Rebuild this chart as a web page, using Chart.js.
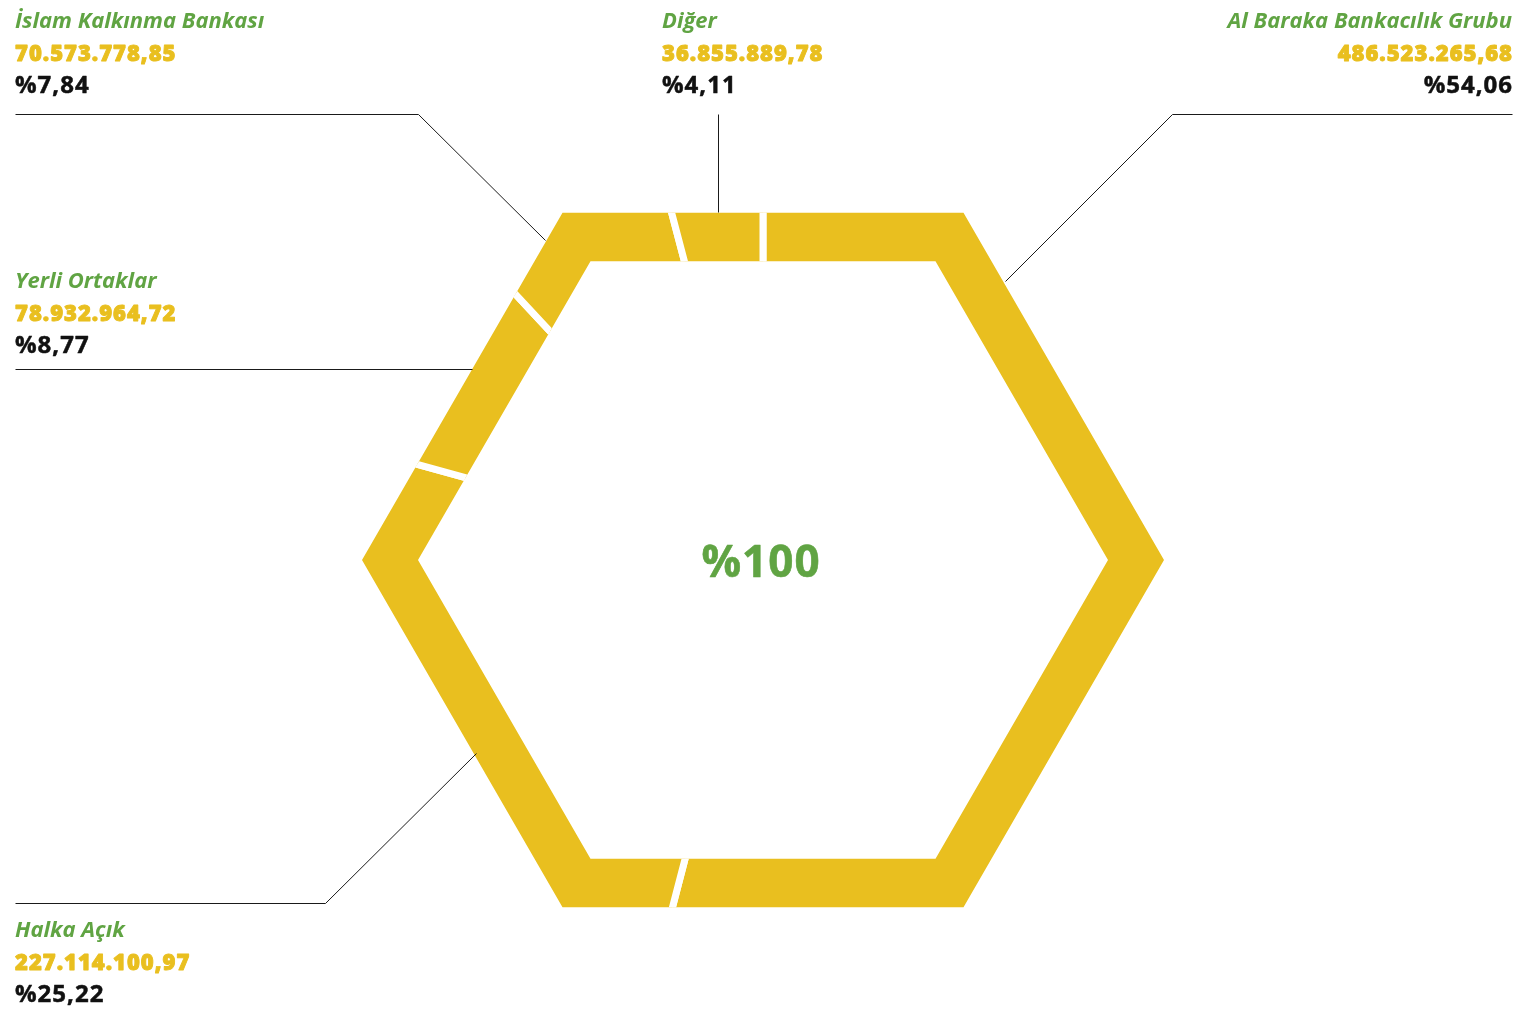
<!DOCTYPE html>
<html>
<head>
<meta charset="utf-8">
<script src="https://cdn.jsdelivr.net/npm/chart.js@4.4.1/dist/chart.umd.min.js"></script>
<style>
  html, body { margin: 0; padding: 0; background: #ffffff; }
  #wrap { width: 1518px; height: 1011px; position: relative; }
</style>
</head>
<body>
<div id="wrap"><canvas id="c"></canvas></div>
<script>
// ---- data ----
const categories = ['Al Baraka Bankacılık Grubu', 'Halka Açık', 'Yerli Ortaklar', 'İslam Kalkınma Bankası', 'Diğer'];
const amounts = [486523265.68, 227114100.97, 78932964.72, 70573778.85, 36855889.78];
const amountLabels = ['486.523.265,68', '227.114.100,97', '78.932.964,72', '70.573.778,85', '36.855.889,78'];
const percentLabels = ['%54,06', '%25,22', '%8,77', '%7,84', '%4,11'];
const totalLabel = '%100';

// ---- styles ----
const YELLOW = '#E9BF1F';
const GREEN = '#60A443';
const HEX_OUT = 401;  // outer hexagon circumradius (px)
const HEX_IN = 345;   // inner hexagon circumradius (px)

// label blocks: anchor x, align, baselines, leader line path
const labelLayout = [
  { x: 1512, align: 'right', y: 28, line: [[1512,114],[1172,114],[1005,281]] },
  { x: 15, align: 'left', y: 937, line: [[15,903],[325,903],[476,753]] },
  { x: 15, align: 'left', y: 288, line: [[15,369],[472,369]] },
  { x: 15, align: 'left', y: 28, line: [[15,114],[418,114],[545,240]] },
  { x: 662, align: 'left', y: 28, line: [[718,114],[718,212]] }
];

function hexPath(ctx, cx, cy, r) {
  for (let i = 0; i < 6; i++) {
    const a = Math.PI / 3 * i;
    const px = cx + r * Math.cos(a), py = cy + r * Math.sin(a);
    if (i === 0) ctx.moveTo(px, py); else ctx.lineTo(px, py);
  }
  ctx.closePath();
}

const hexClip = {
  id: 'hexClip',
  beforeDatasetsDraw(chart) {
    const arc = chart.getDatasetMeta(0).data[0];
    const ctx = chart.ctx;
    ctx.save();
    ctx.beginPath();
    hexPath(ctx, arc.x, arc.y, HEX_OUT);
    hexPath(ctx, arc.x, arc.y, HEX_IN);
    ctx.clip('evenodd');
  },
  afterDatasetsDraw(chart) {
    chart.ctx.restore();
  }
};

function heavyText(ctx, txt, x, y, color, w) {
  ctx.fillStyle = color;
  ctx.strokeStyle = color;
  ctx.lineWidth = w;
  ctx.lineJoin = 'round';
  ctx.fillText(txt, x, y);
  if (w > 0) ctx.strokeText(txt, x, y);
}

const labelsPlugin = {
  id: 'labelsPlugin',
  afterDraw(chart) {
    const ctx = chart.ctx;
    const arc = chart.getDatasetMeta(0).data[0];
    ctx.save();
    // leader lines
    ctx.strokeStyle = '#1a1a1a';
    ctx.lineWidth = 1;
    labelLayout.forEach(l => {
      ctx.beginPath();
      l.line.forEach((p, i) => i ? ctx.lineTo(p[0] + 0.5, p[1] + 0.5) : ctx.moveTo(p[0] + 0.5, p[1] + 0.5));
      ctx.stroke();
    });
    // texts
    categories.forEach((name, i) => {
      const l = labelLayout[i];
      ctx.textAlign = l.align;
      ctx.textBaseline = 'alphabetic';
      ctx.letterSpacing = '0px';
      ctx.font = 'italic 700 22px "Open Sans"';
      heavyText(ctx, name, l.x, l.y, GREEN, 0);
      ctx.letterSpacing = '1px';
      ctx.font = '800 22px "Open Sans"';
      heavyText(ctx, amountLabels[i], l.x + (l.align === 'right' ? 1 : 0), l.y + 33, YELLOW, 0.9);
      ctx.font = '700 24px "Open Sans"';
      heavyText(ctx, percentLabels[i], l.x + (l.align === 'right' ? 1 : 0), l.y + 65, '#111111', 0.5);
    });
    // center total
    ctx.textAlign = 'center';
    ctx.letterSpacing = '1px';
    ctx.font = '700 44px "Open Sans"';
    heavyText(ctx, totalLabel, arc.x - 2, 577, GREEN, 0.6);
    ctx.restore();
  }
};

new Chart(document.getElementById('c'), {
  type: 'doughnut',
  data: {
    labels: categories,
    datasets: [{
      data: amounts,
      backgroundColor: YELLOW,
      borderColor: '#ffffff',
      borderWidth: 7,
      borderAlign: 'center'
    }]
  },
  options: {
    responsive: true,
    maintainAspectRatio: false,
    animation: false,
    events: [],
    cutout: '55%',
    rotation: 0,
    layout: { padding: { left: 333, right: 325, top: 130, bottom: 21 } },
    plugins: { legend: { display: false }, tooltip: { enabled: false } }
  },
  plugins: [hexClip, labelsPlugin]
});
</script>
</body>
</html>
